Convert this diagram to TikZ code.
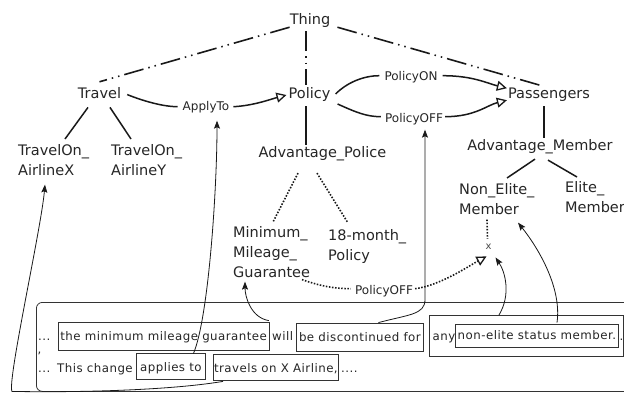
\documentclass[tikz,border=0pt]{standalone}
\usepackage{fontspec}
\setmainfont{DejaVu Sans}
\newfontfamily\spacedfont[LetterSpace=4]{DejaVu Sans}
\usetikzlibrary{arrows.meta,calc}
\tikzset{
 concept/.style={font=\fontsize{14.5}{20}\selectfont, inner sep=0pt, align=left, text=black!85},
 rel/.style={font=\fontsize{12}{14}\selectfont, inner sep=0pt, text=black!85},
 tree/.style={line width=1.5pt, draw=black!90},
 isa/.style={line width=1.6pt, draw=black!90, dash pattern=on 20pt off 5pt on 1.5pt off 5pt on 1.5pt off 5pt},
 dotrel/.style={line width=1.6pt, draw=black!90, dash pattern=on 1.5pt off 1.6pt},
 opentip/.style={-{Triangle[open,length=10pt,width=10pt,line width=1.3pt]}},
 link/.style={line width=0.8pt, draw=black!90, -{Stealth[length=8pt,width=6pt,inset=1.5pt]}},
 txt/.style={font=\spacedfont\fontsize{11.8}{14}\selectfont, inner sep=0pt, text=black!85},
 wbox/.style={txt, draw=black!80, line width=0.8pt},
 rowone/.style={text height=9pt, text depth=1pt, minimum height=28pt},
 rowtwo/.style={text height=11pt, text depth=0pt, minimum height=26pt},
}
\begin{document}
\begin{tikzpicture}[x=1pt,y=-1pt]
\path[use as bounding box, fill=white] (0,0) rectangle (624,394);

% concept nodes
\node[concept, anchor=base] (Thing) at (310,24) {Thing};
\node[concept, anchor=base] (Travel) at (99.5,98) {Travel};
\node[concept, anchor=base] (Policy) at (309.5,98) {Policy};
\node[concept, anchor=base] (Passengers) at (549,98) {Passengers};
\node[concept, anchor=base] (AdvPolice) at (322.5,157.5) {Advantage\_Police};
\node[concept, anchor=base] (AdvMember) at (540,150.5) {Advantage\_Member};
\node[concept, anchor=north west] (TX) at (18,144) {TravelOn\_\\AirlineX};
\node[concept, anchor=north west] (TY) at (111,144) {TravelOn\_\\AirlineY};
\node[concept, anchor=north west] (NonElite) at (459,183) {Non\_Elite\_\\Member};
\node[concept, anchor=north west] (Elite) at (565,181) {Elite\_\\Member};
\node[concept, anchor=north west] (MinMil) at (233,226) {Minimum\_\\Mileage\_\\Guarantee};
\node[concept, anchor=north west] (Month) at (328,229) {18-month\_\\Policy};
\node[font=\fontsize{10}{10}\selectfont, inner sep=0pt, text=black!70] (xmark) at (488.5,246.5) {x};

% relation labels
\node[rel, anchor=base] (ApplyTo) at (206,110) {ApplyTo};
\node[rel, anchor=base] (PolicyON) at (411,80) {PolicyON};
\node[rel, anchor=base] (poffa) at (414,122) {PolicyOFF};
\node[rel, anchor=base] (poffb) at (384,294) {PolicyOFF};

% text frame
\node[draw=black!80, line width=0.8pt, rounded corners=6pt, minimum width=640pt, minimum height=89pt, anchor=north west, inner sep=0pt] (frame) at (36,302) {};
\node[txt, anchor=base west] (dotsa) at (38,340) {...};
\node[wbox, rowone, anchor=west, minimum width=211.5pt] (minbox) at (57.5,336) {the minimum mileage guarantee};
\node[txt, anchor=base west] (will) at (272,340) {will};
\node[wbox, rowone, anchor=west, minimum width=127pt] (discont) at (296,337) {be discontinued for};
\node[wbox, anchor=north west, minimum width=194pt, minimum height=41pt] (anybox) at (429,315) {};
\node[txt, anchor=base west] (anytext) at (432.5,340) {any};
\node[wbox, anchor=west, minimum width=163pt, minimum height=23pt, text height=9pt, text depth=1pt] (nebox) at (455,335.5) {non-elite status member.};
\node[txt, anchor=base west] (perioda) at (619.5,340) {.};
\node[txt, anchor=base west] (comma) at (37.5,353) {,};
\node[txt, anchor=base west] (dotsb) at (38,372) {...};
\node[txt, anchor=base west] (change) at (57,372) {This change};
\node[wbox, rowtwo, anchor=west, minimum width=69pt] (applies) at (136,366) {applies to};
\node[wbox, rowtwo, anchor=west, minimum width=125pt] (travels) at (213,367) {travels on X Airline,};
\node[txt, anchor=base west] (dotsc) at (341,372) {....};

% is-a (dash dot dot)
\draw[isa] (Thing.south west) -- ($(Travel.north)+(0,-5)$);
\draw[isa] ($(Thing.south)+(-4,4)$) -- ($(Policy.north)+(-3.5,-2)$);
\draw[isa] ($(Thing.south east)+(7,0)$) -- ($(Passengers.north)+(-9,-2)$);

% tree edges
\draw[tree] ($(Travel.south)+(-11.5,9)$) -- ($(TX.north west)+(47,-5)$);
\draw[tree] ($(Travel.south)+(10.5,9)$) -- ($(TY.north west)+(20,-5)$);
\draw[tree] ($(Policy.south)+(-3.5,5)$) -- ($(AdvPolice.north)+(-16.5,-1)$);
\draw[tree] ($(Passengers.south)+(-5,5)$) -- ($(AdvMember.north)+(4,-1)$);
\draw[tree] ($(AdvMember.south)+(-5,5)$) -- ($(NonElite.north west)+(48,-5)$);
\draw[tree] ($(AdvMember.south)+(8,6)$) -- ($(Elite.north west)+(12,-4)$);

% dotted
\draw[dotrel] ($(AdvPolice.south)+(-24.5,12)$) -- ($(MinMil.north west)+(40,-4)$);
\draw[dotrel] ($(AdvPolice.south)+(-5.5,12)$) -- ($(Month.north west)+(20,-6)$);
\draw[dotrel] ($(NonElite.south west)+(28,5)$) -- ($(xmark.north)+(-1,-5)$);
\draw[dotrel] ($(MinMil.south west)+(69,2)$) .. controls +(20,7) and +(-15,0) .. ($(poffb.west)+(-4,-2)$);
\draw[dotrel,opentip] ($(poffb.east)+(2,-2)$) .. controls +(25,-3) and +(-15,8) .. ($(xmark.south)+(-2,7)$);

% relations
\draw[tree] ($(Travel.east)+(6,2)$) .. controls +(15,6) and +(-15,0) .. ($(ApplyTo.west)+(-5,0)$);
\draw[tree,opentip] ($(ApplyTo.east)+(4,0)$) .. controls +(20,-1) and +(-15,4) .. ($(Policy.west)+(-2,1)$);
\draw[tree] ($(Policy.east)+(5,0)$) .. controls +(12,-12) and +(-15,0) .. ($(PolicyON.west)+(-5,-1)$);
\draw[tree,opentip] ($(PolicyON.east)+(5,-1)$) .. controls +(30,0) and +(-20,-5) .. ($(Passengers.west)+(-1,-6)$);
\draw[tree] ($(Policy.east)+(7,10)$) .. controls +(18,8) and +(-15,0) .. ($(poffa.west)+(-4,-2)$);
\draw[tree,opentip] ($(poffa.east)+(2,-2)$) .. controls +(30,0) and +(-20,5) .. ($(Passengers.west)+(-1,6)$);

% links from text
\draw[link] ($(minbox.north east)+(-1,-1)$) .. controls +(-18,-3) and +(0,15) .. ($(MinMil.south west)+(12,4)$);
\draw[link] ($(applies.north)+(22.5,1)$) .. controls +(15,-35) and +(0,70) .. ($(ApplyTo.south)+(11,8)$);
\draw[link] ($(travels.south west)+(10,1)$) .. controls +(-60,10) and +(50,1) .. ($(travels.south west)+(-201,11)$) .. controls +(-5,-10) and +(-4,45) .. ($(TX.south west)+(27,9)$);
\draw[link] ($(discont.north)+(18.5,0)$) .. controls +(30,-8) and +(0,15) .. ($(poffa.south)+(11,175)$) -- ($(poffa.south)+(11,5)$);
\draw[link] ($(anybox.north west)+(70,0)$) .. controls +(12,-20) and +(10,15) .. ($(xmark.south)+(7,8)$);
\draw[link] ($(nebox.north west)+(102,-1)$) .. controls +(5,-35) and +(20,25) .. ($(NonElite.south west)+(59,8)$);
\end{tikzpicture}
\end{document}
